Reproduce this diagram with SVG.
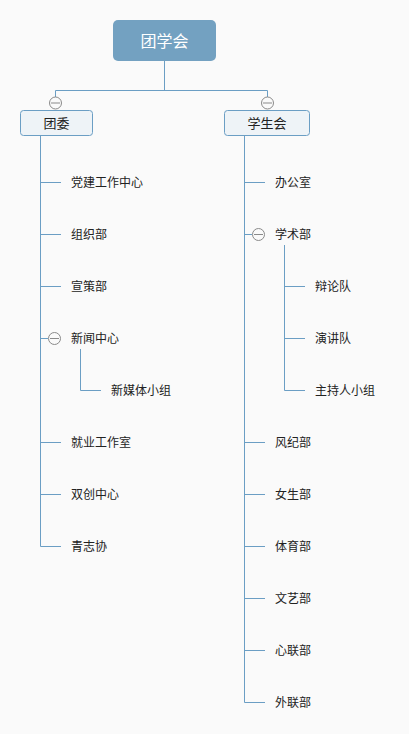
<svg xmlns="http://www.w3.org/2000/svg" width="409" height="734" viewBox="0 0 409 734">
<style>
.ln{stroke:#6b9ec4;stroke-width:1;fill:none}
.t{font-family:"Liberation Sans","Noto Sans CJK SC",sans-serif;font-size:12px;fill:#222;dominant-baseline:central}
.sub{fill:#eef3f7;stroke:#6b9ec4;stroke-width:1}
.col circle{fill:#fafafa;stroke:#8a8a8a;stroke-width:1}
.col line{stroke:#8a8a8a;stroke-width:1}
</style>
<rect width="409" height="734" fill="#fafafa"/>
<g id="connectors" class="ln">
<path d="M164.5 61V90.5M55.5 90.5H267.5M55.5 90.5V97M267.5 90.5V97"/>
<path d="M40.5 135V546.5"/>
<path d="M40.5 182.5H61M40.5 234.5H61M40.5 286.5H61M40.5 338.5H48M40.5 442.5H61M40.5 494.5H61M40.5 546.5H61"/>
<path d="M80.5 349V390.5H101"/>
<path d="M244.5 135V702.5"/>
<path d="M244.5 182.5H265M244.5 234.5H252M244.5 442.5H265M244.5 494.5H265M244.5 546.5H265M244.5 598.5H265M244.5 650.5H265M244.5 702.5H265"/>
<path d="M284.5 245V390.5H305M284.5 286.5H305M284.5 338.5H305"/>
</g>
<g id="root">
<rect x="113" y="20" width="103" height="41" rx="5" fill="#73a1c1"/>
<text x="164.5" y="41" text-anchor="middle" class="t" style="font-size:16px;fill:#fff">团学会</text>
</g>
<g id="tuanwei">
<g class="col"><circle cx="55.5" cy="103" r="6"/><line x1="51" y1="103" x2="60" y2="103"/></g>
<rect x="20.5" y="110.5" width="72" height="25" rx="3" class="sub"/>
<text x="56.5" y="123" text-anchor="middle" class="t" style="font-size:13px">团委</text>
</g>
<g id="xueshenghui">
<g class="col"><circle cx="267.5" cy="103" r="6"/><line x1="263" y1="103" x2="272" y2="103"/></g>
<rect x="224.5" y="110.5" width="85" height="25" rx="3" class="sub"/>
<text x="267" y="123" text-anchor="middle" class="t" style="font-size:13px">学生会</text>
</g>
<g id="n1"><text x="71" y="182.5" class="t">党建工作中心</text></g>
<g id="n2"><text x="71" y="234.5" class="t">组织部</text></g>
<g id="n3"><text x="71" y="286.5" class="t">宣策部</text></g>
<g id="n4"><g class="col"><circle cx="54.5" cy="338.5" r="6"/><line x1="50" y1="338.5" x2="59" y2="338.5"/></g><text x="71" y="338.5" class="t">新闻中心</text></g>
<g id="n5"><text x="111" y="390.5" class="t">新媒体小组</text></g>
<g id="n6"><text x="71" y="442.5" class="t">就业工作室</text></g>
<g id="n7"><text x="71" y="494.5" class="t">双创中心</text></g>
<g id="n8"><text x="71" y="546.5" class="t">青志协</text></g>
<g id="m1"><text x="275" y="182.5" class="t">办公室</text></g>
<g id="m2"><g class="col"><circle cx="258.5" cy="234.5" r="6"/><line x1="254" y1="234.5" x2="263" y2="234.5"/></g><text x="275" y="234.5" class="t">学术部</text></g>
<g id="m3"><text x="315" y="286.5" class="t">辩论队</text></g>
<g id="m4"><text x="315" y="338.5" class="t">演讲队</text></g>
<g id="m5"><text x="315" y="390.5" class="t">主持人小组</text></g>
<g id="m6"><text x="275" y="442.5" class="t">风纪部</text></g>
<g id="m7"><text x="275" y="494.5" class="t">女生部</text></g>
<g id="m8"><text x="275" y="546.5" class="t">体育部</text></g>
<g id="m9"><text x="275" y="598.5" class="t">文艺部</text></g>
<g id="m10"><text x="275" y="650.5" class="t">心联部</text></g>
<g id="m11"><text x="275" y="702.5" class="t">外联部</text></g>
</svg>
